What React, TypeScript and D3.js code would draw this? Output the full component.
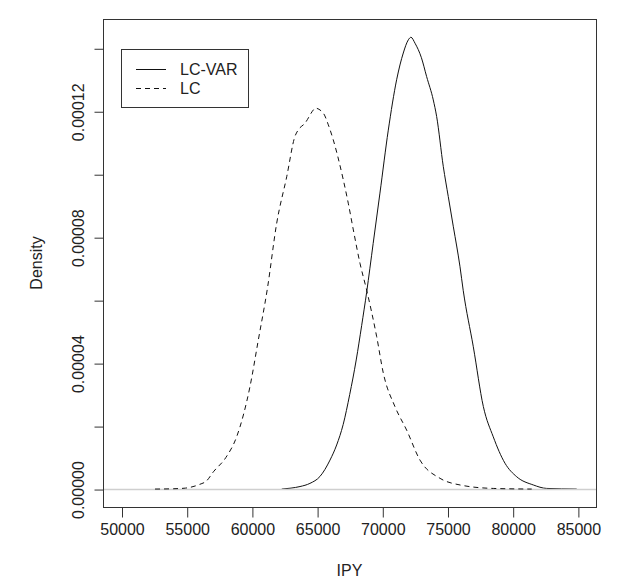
import * as d3 from "d3";
import { useEffect, useRef } from "react";

// density estimates: [IPY, density]
const lcVarIpy = [62290, 63000, 63690, 64450, 65220, 65990, 66500, 67000, 67500, 68000, 68420, 68800, 69300, 69820, 70460, 71100, 71610, 72000, 72200, 72510, 73000, 73400, 73910, 74170, 74680, 75060, 75450, 75960, 76210, 76980, 77750, 78510, 79410, 80310, 81580, 82610, 84910];
const lcVarDensity = [0, 0.0000003, 0.0000008, 0.0000018, 0.000004, 0.0000092, 0.000014, 0.0000205, 0.00003, 0.000041, 0.000052, 0.0000625, 0.000078, 0.000094, 0.000114, 0.00013, 0.0001385, 0.0001427, 0.0001435, 0.0001416, 0.000137, 0.000131, 0.0001236, 0.0001183, 0.0001024, 0.0000929, 0.0000833, 0.0000706, 0.000063, 0.0000452, 0.0000262, 0.0000166, 0.0000082, 0.0000039, 0.0000013, 0.0000002, 0];

const lcIpy = [52570, 54000, 54900, 56000, 56500, 57050, 58000, 58830, 59850, 60490, 61200, 61900, 62670, 63300, 63560, 64070, 64710, 64840, 65475, 65860, 66240, 67010, 67390, 67780, 68290, 68800, 69570, 70080, 70970, 71870, 72890, 74430, 75960, 78510, 81460];
const lcDensity = [0, 0.0000001, 0.0000003, 0.0000015, 0.0000025, 0.0000055, 0.0000100, 0.0000166, 0.0000325, 0.0000473, 0.000064, 0.0000844, 0.0000992, 0.000112, 0.0001141, 0.0001162, 0.0001204, 0.000121, 0.0001194, 0.0001157, 0.0001109, 0.0000982, 0.0000908, 0.0000823, 0.0000717, 0.0000632, 0.0000484, 0.0000368, 0.0000262, 0.0000187, 0.0000092, 0.0000034, 0.0000013, 0.0000002, 0];

const xTicks = [50000, 55000, 60000, 65000, 70000, 75000, 80000, 85000];
const yTicks = [0, 0.00002, 0.00004, 0.00006, 0.00008, 0.0001, 0.00012, 0.00014];
const legendLabels = ["LC-VAR", "LC"];

export default function App() {
  const ref = useRef<SVGSVGElement>(null);

  useEffect(() => {
    const W = 625, H = 579;
    const margin = { top: 19, right: 29, bottom: 72, left: 103 };
    const font = "'Liberation Sans', Arial, sans-serif";

    const svg = d3.select(ref.current);
    svg.selectAll("*").remove();

    const x = d3.scaleLinear().domain([48580, 86390]).range([margin.left, W - margin.right]);
    const y = d3.scaleLinear().domain([-0.0000057, 0.0001493]).range([H - margin.bottom, margin.top]);

    const line = d3
      .line<[number, number]>()
      .x((d) => x(d[0]))
      .y((d) => y(d[1]))
      .curve(d3.curveMonotoneX);

    const lcVar = lcVarIpy.map((v, i) => [v, lcVarDensity[i]] as [number, number]);
    const lc = lcIpy.map((v, i) => [v, lcDensity[i]] as [number, number]);

    // solid curve, then the zero line, then dashed curve
    svg.append("path").attr("d", line(lcVar)).attr("fill", "none").attr("stroke", "#111").attr("stroke-width", 1);

    svg
      .append("line")
      .attr("x1", margin.left)
      .attr("x2", W - margin.right)
      .attr("y1", Math.round(y(0)) + 0.5)
      .attr("y2", Math.round(y(0)) + 0.5)
      .attr("stroke", "#cfcfcf")
      .attr("stroke-width", 1.5);

    svg
      .append("path")
      .attr("d", line(lc))
      .attr("fill", "none")
      .attr("stroke", "#111")
      .attr("stroke-width", 1)
      .attr("stroke-dasharray", "5,4");

    // frame
    svg
      .append("rect")
      .attr("x", margin.left + 0.5)
      .attr("y", margin.top + 0.5)
      .attr("width", W - margin.left - margin.right)
      .attr("height", H - margin.top - margin.bottom)
      .attr("fill", "none")
      .attr("stroke", "#333");

    // x axis
    const gx = svg
      .append("g")
      .attr("transform", `translate(0.5,${H - margin.bottom + 0.5})`)
      .call(d3.axisBottom(x).tickValues(xTicks).tickSize(10).tickSizeOuter(0).tickFormat(d3.format("d")));
    gx.select(".domain").remove();
    gx.selectAll("line").attr("stroke", "#333");
    gx.selectAll("text")
      .attr("y", 27)
      .attr("dy", 0)
      .attr("fill", "#222")
      .style("font-family", font)
      .style("font-size", "16px");

    // y axis
    const gy = svg
      .append("g")
      .attr("transform", `translate(${margin.left + 0.5},0.5)`)
      .call(d3.axisLeft(y).tickValues(yTicks).tickSize(9).tickSizeOuter(0).tickFormat((d, i) => (i % 2 === 0 ? d3.format(".5f")(d as number) : "")));
    gy.select(".domain").remove();
    gy.selectAll("line").attr("stroke", "#333");
    gy.selectAll("text")
      .attr("x", 0)
      .attr("dy", 0)
      .attr("text-anchor", "middle")
      .attr("transform", "translate(-20,0) rotate(-90)")
      .attr("fill", "#222")
      .style("font-family", font)
      .style("font-size", "16px");

    // axis titles
    svg
      .append("text")
      .attr("x", (margin.left + W - margin.right) / 2)
      .attr("y", 576)
      .attr("text-anchor", "middle")
      .attr("fill", "#222")
      .style("font-family", font)
      .style("font-size", "16px")
      .text("IPY");

    svg
      .append("text")
      .attr("transform", `translate(42,${(margin.top + H - margin.bottom) / 2}) rotate(-90)`)
      .attr("text-anchor", "middle")
      .attr("fill", "#222")
      .style("font-family", font)
      .style("font-size", "16px")
      .text("Density");

    // legend
    const lg = svg.append("g").attr("transform", `translate(${margin.left + 18},49)`);
    lg.append("rect").attr("x", 0.5).attr("y", 0.5).attr("width", 127).attr("height", 58).attr("fill", "#fff").attr("stroke", "#333");
    legendLabels.forEach((label, i) => {
      const ly = 20 + i * 19;
      lg.append("line")
        .attr("x1", 15)
        .attr("x2", 45)
        .attr("y1", ly + 0.5)
        .attr("y2", ly + 0.5)
        .attr("stroke", "#111")
        .attr("stroke-dasharray", i === 0 ? null : "5,4");
      lg.append("text")
        .attr("x", 59)
        .attr("y", ly + 6)
        .attr("fill", "#222")
        .style("font-family", font)
        .style("font-size", "16px")
        .text(label);
    });
  }, []);

  return <svg ref={ref} width={625} height={579} style={{ position: "absolute", left: 0, top: 0, background: "#fff" }} />;
}
